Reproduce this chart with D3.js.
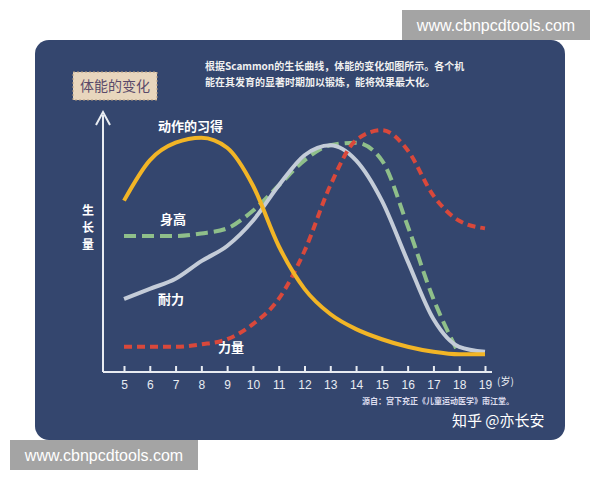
<!DOCTYPE html>
<html><head><meta charset="utf-8">
<script src="https://cdn.jsdelivr.net/npm/d3@7"></script>
<style>body{margin:0;background:#fff}svg{display:block;font-family:"Noto Sans CJK SC",sans-serif}</style>
</head><body><div id="wrapper"></div>
<script>
const ages = [5, 6, 7, 8, 9, 10, 11, 12, 13, 14, 15, 16, 17, 18, 19];
const skill = [68, 84, 91, 93, 89, 74, 50, 33, 23, 17, 13, 10, 8, 7, 7];
const endurance = [29, 33, 37, 44, 50, 60, 74, 86, 90, 84, 68, 44, 21, 10, 8];
const height = [54, 54, 54, 55, 57, 64, 74, 84, 90, 91, 84, 58, 29, 7];
const strength = [10, 10, 10, 11, 13, 19, 29, 48, 74, 92, 96, 88, 70, 60, 57];

const svg = d3.select("#wrapper").append("svg").attr("width", 600).attr("height", 480);
svg.append("rect").attr("x", 35).attr("y", 40).attr("width", 530).attr("height", 400).attr("rx", 14).attr("fill", "#34466e");

const x = d3.scaleLinear().domain([5, 19]).range([124, 485]);
const y = d3.scaleLinear().domain([0, 100]).range([372, 120]);

const line = d3.line().curve(d3.curveMonotoneX).x((d) => x(d[0])).y((d) => y(d[1]));
const series = [
  { v: height, color: "#8fbf8a", dash: "12,6" },
  { v: endurance, color: "#c4ccd8", dash: null },
  { v: strength, color: "#d9483b", dash: "8,5" },
  { v: skill, color: "#f2b526", dash: null },
];
series.forEach((s) => {
  svg.append("path")
    .attr("d", line(s.v.map((v, i) => [ages[i], v])))
    .attr("fill", "none").attr("stroke", s.color).attr("stroke-width", 4)
    .attr("stroke-dasharray", s.dash);
});

// axes
const xAxis = svg.append("g").attr("transform", "translate(0,372)")
  .call(d3.axisBottom(x).tickValues(ages).tickSize(-6).tickFormat(d3.format("d")));
xAxis.select(".domain").attr("d", "M103,0H492").attr("stroke", "#e8ecf2").attr("stroke-width", 2);
xAxis.selectAll(".tick line").attr("stroke", "#e8ecf2").attr("stroke-width", 2);
xAxis.selectAll("text").attr("fill", "#e8ecf2").attr("dy", "1.2em").style("font-size", "12px").style("font-family", "Liberation Sans");
svg.append("text").attr("x", 497).attr("y", 385).attr("fill", "#e8ecf2").style("font-size", "10px").text("(岁)");
svg.append("line").attr("x1", 103).attr("x2", 103).attr("y1", 372).attr("y2", 115).attr("stroke", "#e8ecf2").attr("stroke-width", 2);
svg.append("path").attr("d", "M96,125L103,112L110,125").attr("fill", "none").attr("stroke", "#e8ecf2").attr("stroke-width", 2);

["生", "长", "量"].forEach((c, i) => {
  svg.append("text").attr("x", 88).attr("y", 215 + i * 17).attr("text-anchor", "middle")
    .attr("fill", "#fff").style("font-size", "12px").style("font-weight", "bold").text(c);
});

const labels = [
  ["动作的习得", 158, 131], ["身高", 160, 224], ["耐力", 158, 304], ["力量", 218, 352],
];
labels.forEach(([t, lx, ly]) => {
  svg.append("text").attr("x", lx).attr("y", ly).attr("fill", "#fff")
    .style("font-size", "13px").style("font-weight", "bold").text(t);
});

// header
svg.append("rect").attr("x", 73).attr("y", 72).attr("width", 84).attr("height", 28)
  .attr("fill", "#e8d6bd").attr("stroke", "#b89e80").attr("stroke-dasharray", "2,2");
svg.append("text").attr("x", 115).attr("y", 91).attr("text-anchor", "middle").attr("fill", "#5a4a6a")
  .style("font-size", "14px").text("体能的变化");
svg.append("text").attr("x", 205).attr("y", 70).attr("fill", "#f0f0f0").style("font-size", "10px").style("font-weight", "bold")
  .text("根据Scammon的生长曲线，体能的变化如图所示。各个机");
svg.append("text").attr("x", 205).attr("y", 86).attr("fill", "#f0f0f0").style("font-size", "10px").style("font-weight", "bold")
  .text("能在其发育的显著时期加以锻炼，能将效果最大化。");

svg.append("text").attr("x", 362).attr("y", 404).attr("fill", "#dde").style("font-size", "8px").style("font-weight", "bold")
  .text("源自：宫下充正《儿童运动医学》南江堂。");
svg.append("text").attr("x", 452).attr("y", 426).attr("fill", "#fff").style("font-size", "15px").text("知乎 @亦长安");

// watermarks
svg.append("rect").attr("x", 402).attr("y", 10).attr("width", 188).attr("height", 30).attr("fill", "#9a9a9a").attr("opacity", 0.9);
svg.append("text").attr("x", 496).attr("y", 31).attr("text-anchor", "middle").attr("fill", "#fff").style("font-size", "16px").style("font-family", "Liberation Sans").text("www.cbnpcdtools.com");
svg.append("rect").attr("x", 10).attr("y", 440).attr("width", 188).attr("height", 30).attr("fill", "#9a9a9a").attr("opacity", 0.9);
svg.append("text").attr("x", 104).attr("y", 461).attr("text-anchor", "middle").attr("fill", "#fff").style("font-size", "16px").style("font-family", "Liberation Sans").text("www.cbnpcdtools.com");
</script></body></html>
